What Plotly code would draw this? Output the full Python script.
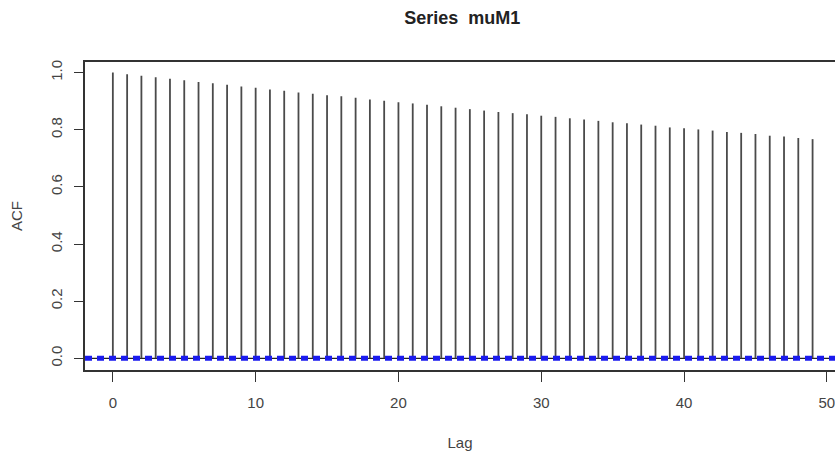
import plotly.graph_objects as go

# Sample autocorrelation of muM1 by lag
lags = list(range(50))
acf_values = [
    1.000, 0.994, 0.989, 0.984, 0.978, 0.973, 0.967, 0.963, 0.957, 0.951,
    0.947, 0.941, 0.936, 0.930, 0.926, 0.921, 0.917, 0.912, 0.906, 0.901,
    0.896, 0.892, 0.887, 0.882, 0.877, 0.872, 0.867, 0.862, 0.858, 0.854,
    0.849, 0.845, 0.840, 0.836, 0.831, 0.826, 0.823, 0.818, 0.814, 0.808,
    0.805, 0.801, 0.797, 0.792, 0.789, 0.785, 0.779, 0.776, 0.771, 0.767,
]
# approximate 95% confidence bound (very long series, so it is tiny)
conf_limit = 0.004

x_ticks = [0, 10, 20, 30, 40, 50]
y_ticks = [0.0, 0.2, 0.4, 0.6, 0.8, 1.0]
y_tick_text = ["0.0", "0.2", "0.4", "0.6", "0.8", "1.0"]

FONT = "Liberation Sans, Arial, Helvetica, sans-serif"

# vertical spikes from zero to each autocorrelation
spike_x, spike_y = [], []
for lag, v in zip(lags, acf_values):
    spike_x += [lag, lag, None]
    spike_y += [0, v, None]

x_lo, x_hi = -1.95, 50.57

fig = go.Figure()
fig.add_trace(go.Scatter(
    x=[x_lo, x_hi], y=[0, 0], mode="lines",
    line=dict(color="#222222", width=1.3), hoverinfo="skip", showlegend=False,
))
fig.add_trace(go.Scatter(
    x=spike_x, y=spike_y, mode="lines",
    line=dict(color="#4a4a4a", width=1.8), showlegend=False,
))
for sign in (1, -1):
    fig.add_trace(go.Scatter(
        x=[x_lo, x_hi], y=[sign * conf_limit, sign * conf_limit], mode="lines",
        line=dict(color="#1a1aee", width=2.8, dash="7px,5px"),
        hoverinfo="skip", showlegend=False,
    ))

fig.update_layout(
    width=835, height=451,
    margin=dict(l=85, r=0, t=62, b=77),
    paper_bgcolor="white", plot_bgcolor="white",
    font=dict(family=FONT, color="#333333", size=15),
    title=dict(
        text="<b>Series  muM1</b>", x=0.503, xref="paper", xanchor="center",
        y=0.96, yref="container", yanchor="middle",
        font=dict(family=FONT, size=18, color="#222222"),
    ),
    xaxis=dict(
        range=[x_lo, x_hi], tickmode="array", tickvals=x_ticks,
        ticks="outside", ticklen=10, tickwidth=1.3, tickcolor="#333333",
        ticklabelstandoff=8, ticklabeloverflow="allow",
        showgrid=False, zeroline=False,
        showline=True, linecolor="#333333", linewidth=1.5, mirror=True,
        tickfont=dict(size=15, color="#444444"),
        title=dict(text="Lag", font=dict(size=15, color="#444444"), standoff=30),
    ),
    yaxis=dict(
        range=[-0.041, 1.037], tickmode="array", tickvals=y_ticks, ticktext=y_tick_text,
        ticks="outside", ticklen=9, tickwidth=1.3, tickcolor="#333333",
        tickangle=-90, ticklabelstandoff=6,
        showgrid=False, zeroline=False,
        showline=True, linecolor="#333333", linewidth=1.5,
        tickfont=dict(size=15, color="#444444"),
        title=dict(text="ACF", font=dict(size=15, color="#444444"), standoff=22),
    ),
)

fig.write_html("out.html")
